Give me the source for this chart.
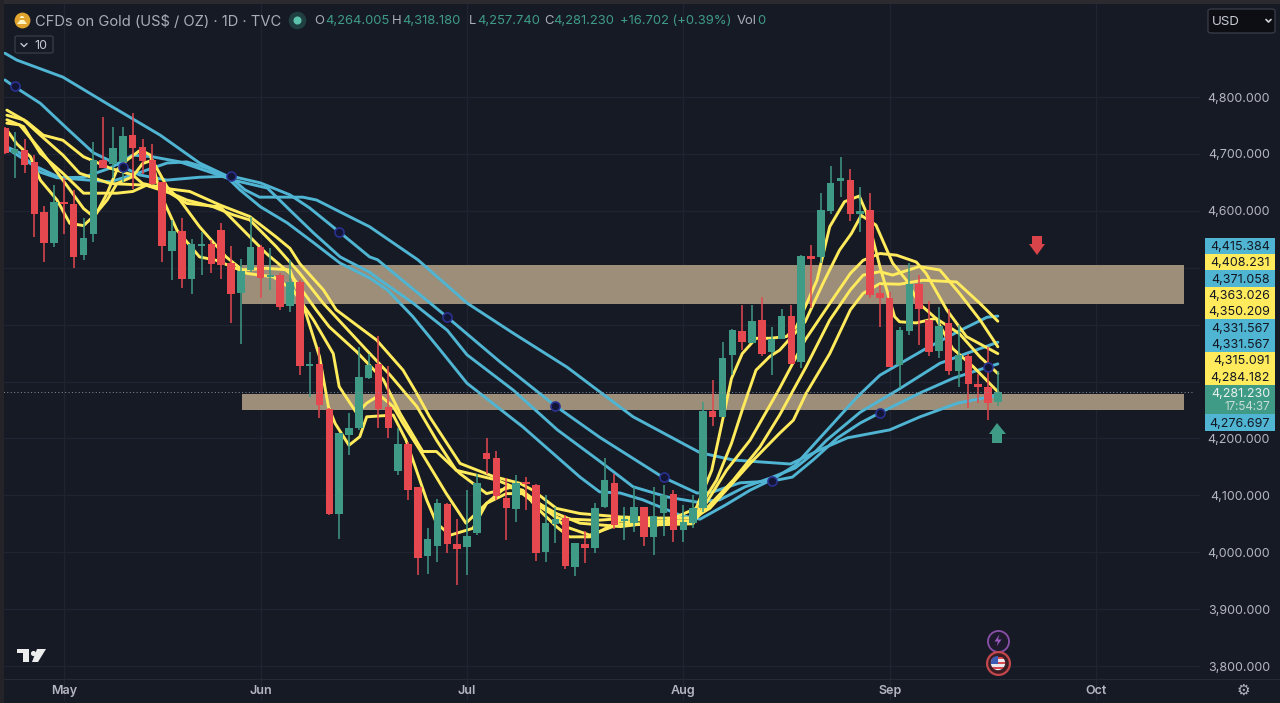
import numpy as np, pandas as pd, seaborn as sns, matplotlib
matplotlib.use("Agg")
import matplotlib.pyplot as plt
from matplotlib.patches import Rectangle, Polygon, Ellipse, FancyBboxPatch

open_ = [4745,4701,4707,4685,4598,4543,4615,4612,4523,4559,4689,4683,4686,4733,4713,4690,4651,4530,4564,4481,4538,4541,4567,4508,4455,4496,4537,4484,4487,4433,
         4475,4327,4330,4252,4068,4206,4218,4307,4330,4256,4143,4190,4114,3993,4011,4084,4015,4010,4033,4174,4165,4096,4076,4123,4118,4001,4050,4061,3974,4015,
         4007,4080,4121,4055,4051,4079,4026,4069,4102,4039,4052,4077,4248,4238,4346,4389,4368,4408,4351,4374,4416,4335,4520,4519,4600,4653,4655,4594,4602,4456,
         4446,4329,4389,4471,4408,4354,4402,4318,4345,4296,4291,4264.005]
high = [4748,4739,4727,4698,4609,4645,4657,4636,4587,4721,4764,4748,4748,4772,4726,4718,4651,4583,4587,4551,4563,4548,4578,4538,4515,4590,4540,4534,4490,4513,
        4478,4351,4361,4254,4210,4244,4361,4349,4380,4327,4219,4194,4114,4042,4094,4086,4059,4109,4138,4201,4178,4130,4135,4133,4120,4101,4080,4065,4017,4038,
        4086,4165,4138,4080,4115,4079,4115,4119,4109,4083,4100,4264,4302,4370,4393,4434,4434,4449,4396,4427,4434,4522,4540,4631,4679,4695,4673,4641,4631,4469,
        4458,4395,4509,4488,4441,4431,4428,4399,4349,4314,4361,4318.18]
low = [4700,4657,4666,4554,4510,4537,4559,4500,4513,4546,4675,4657,4651,4639,4665,4645,4510,4479,4464,4453,4487,4490,4481,4402,4366,4493,4446,4461,4425,4423,
       4311,4273,4235,4066,4024,4170,4215,4305,4218,4200,4136,4092,3960,3961,3983,3999,3942,3960,4030,4138,4091,4021,4053,4074,3984,3983,4017,3970,3958,3981,
       3998,4077,4040,4021,4036,4011,3995,4029,4018,4018,4042,4071,4222,4238,4311,4355,4367,4344,4311,4374,4330,4324,4430,4508,4594,4625,4582,4563,4446,4395,
       4326,4288,4382,4364,4345,4341,4312,4290,4254,4262,4233,4257.74]
close = [4702,4708,4680,4595,4543,4615,4612,4519,4553,4689,4676,4711,4731,4711,4687,4647,4538,4564,4481,4541,4541,4506,4505,4454,4495,4537,4482,4487,4431,4475,
         4327,4329,4259,4068,4210,4218,4308,4329,4252,4218,4190,4110,3990,4024,4087,4014,4006,4029,4121,4163,4099,4077,4121,4120,3999,4052,4059,3976,4016,4007,
         4078,4127,4048,4058,4079,4026,4063,4100,4039,4053,4077,4249,4238,4341,4390,4369,4406,4348,4374,4415,4331,4520,4516,4601,4649,4656,4595,4600,4452,4446,
         4326,4390,4471,4427,4352,4398,4318,4346,4295,4291,4262,4281.23]

y5_bar = [0.2,2.2,3.9,5.9,8,10.7,13,14,16.5,18.8,21.9,24.9,27.6,29,30,32.4,33.7,37.8,40.5,41.9,43.2,46.3,49.7,52.4,53.7,56.1,58.5,62.6,66,70,71.7,75.8,78.8,80.2,81.5,83.9,86,87.3,89,91,93.4,96.8,99.2,101]
y5_val = [4777,4757,4733,4724,4695,4675,4663,4648,4639,4634,4610,4590,4554,4534,4507,4461,4426,4373,4320,4279,4238,4156,4133,4121,4109,4077,4068,4062,4060,4060,4077,4156,4209,4232,4279,4349,4426,4455,4472,4471,4478,4475,4437,4406]
y4_bar = [0.2,1.9,3.6,5.9,7.6,10.7,14.4,16.5,18.5,21.2,23.2,24.9,27.6,30,32.4,36.8,39.2,41.9,43.9,45.9,50,51.7,54.4,56.4,60.2,62.6,66,70,71.2,74.1,76.8,78.8,81.5,83.9,86,87.3,89,90.3,93,95.1,97.1,99.2,101]
y4_val = [4768,4760,4733,4698,4666,4648,4645,4634,4619,4607,4593,4584,4537,4490,4437,4355,4311,4256,4197,4144,4127,4115,4080,4059,4056,4059,4055,4055,4074,4127,4185,4241,4326,4408,4461,4487,4493,4487,4502,4496,4455,4408,4361]
y3_bar = [0.2,1.9,3.6,5.9,8,11.4,13,14.4,16.8,18.5,21.9,23.9,26.6,29,31.7,33,35.8,38.5,40.2,42.5,43.9,46.3,49,51.7,53.7,56.1,58.5,62.6,66,70,71,73.4,75.8,78.8,81.4,83.9,86,87.3,89,90.7,92.7,93.7,95.8,97.8,101]
y3_val = [4760,4748,4701,4666,4631,4631,4634,4645,4631,4613,4607,4572,4525,4490,4425,4396,4352,4303,4244,4177,4177,4138,4103,4115,4092,4068,4051,4045,4052,4052,4077,4144,4197,4288,4373,4437,4490,4513,4525,4522,4510,4490,4426,4379,4349]
y2_bar = [0.2,1.5,3.6,5.9,8,9,10.4,11.4,13,14,15,16.5,17.8,19.8,22.5,24.6,27.3,29.3,31.4,33.4,34,35.8,36.8,38.1,39.5,40.5,42.2,44.9,46.9,49,51,53,55,57,59.5,62.6,66,70,70.7,72.4,73.9,75,76.4,77.8,78.8,81.4,83.2,84.9,86.1,87.1,88.6,90.3,91.7,93,94.7,97.1,99.2,101]
y2_val = [4754,4751,4707,4654,4604,4590,4619,4648,4660,4683,4689,4642,4619,4572,4519,4490,4484,4461,4408,4349,4291,4244,4262,4276,4256,4226,4180,4103,4051,4086,4103,4103,4077,4045,4030,4050,4048,4050,4080,4127,4191,4250,4320,4344,4355,4405,4472,4531,4560,4592,4575,4508,4478,4437,4411,4384,4343,4314]
y1_bar = [0.2,1.2,2.6,3.6,5.3,6.6,8,9.3,10.4,11.4,12.4,13.8,14.8,15.8,17.5,19.8,21.5,23.9,26.6,29,30.5,32,32.9,33.6,35,36.1,36.8,39.5,40.8,41.5,42.9,43.9,45.3,47.6,49,51,52.7,54,56.1,57.4,59.5,62.6,66,70.3,71.9,73,73.9,75,76.4,77.8,79.5,80.5,81.4,82.6,83.9,85.4,86.9,87.6,89,90.5,91,92.7,94.7,96.4,98.5,101]
y1_val = [4742,4718,4695,4654,4619,4578,4574,4595,4631,4672,4689,4707,4698,4631,4566,4519,4513,4496,4499,4496,4426,4344,4256,4226,4188,4203,4238,4241,4197,4162,4092,4051,4030,4042,4086,4115,4109,4080,4045,4027,4027,4056,4045,4077,4144,4232,4305,4349,4376,4376,4379,4396,4431,4478,4572,4616,4626,4598,4502,4414,4405,4403,4411,4358,4326,4282]

a_bar = [0,1.2,5.9,11,15.8,19.8,23,24.4,25.9,30.3,31.7,34.1,37.1,42,47,51.7,57.2,60.5,63.9,70.7,74.1,79.9,82.9,85.7,90,93.1,96.9,101]
a_val = [4877,4865,4835,4782,4733,4684,4658,4637,4624,4624,4619,4598,4572,4514,4438,4385,4325,4282,4238,4175,4162,4155,4180,4201,4215,4238,4262,4276]
b_bar = [0,0.9,3.6,6.3,9,12,13.7,16.5,19.8,23,26,29,31,34,37.1,37.9,45,50.4,56,60.5,66.9,70.4,72,74.8,78,80.1,82.2,84.7,87,89,93.1,96.5,99.9,101]
b_val = [4830,4819,4789,4745,4702,4677,4663,4654,4659,4661,4649,4628,4605,4563,4519,4514,4413,4334,4257,4202,4132,4104,4106,4122,4125,4132,4162,4201,4227,4245,4280,4306,4325,4331]
c_bar = [0,1.5,3.6,5.3,8,10.7,13,15,17.8,21.2,23.2,26.7,29,31.4,34.1,37.1,38.2,41.5,45,47,51.7,56.2,60.5,63.9,67.4,70.4,72.7,75.3,77.8,80.4,82.4,83.6,87,90.8,95.1,97.9,101]
c_val = [4714,4702,4668,4658,4659,4675,4698,4695,4686,4666,4654,4640,4601,4561,4519,4492,4478,4438,4390,4347,4285,4215,4160,4115,4097,4088,4092,4115,4130,4148,4176,4197,4246,4285,4332,4350,4369]
d_bar = [0,2.9,5.6,10.7,13,16.5,18.5,20.6,22.6,23.9,26,28.7,31.4,34.1,37.1,38.9,41.5,44.3,47,52.7,58.5,60.5,62.6,64.9,68.7,70.7,73.3,75.8,78.3,80.4,82.7,86.7,89,93.8,97.2,99.9,101]
d_val = [4712,4680,4658,4651,4663,4684,4686,4675,4659,4637,4607,4579,4544,4508,4482,4461,4414,4355,4297,4220,4132,4106,4104,4092,4065,4058,4083,4109,4130,4153,4197,4273,4311,4359,4390,4413,4415]

dot_bar = [1,12,23,34,45,56,67,78,89,100]
dot_val = [4819,4677,4661,4563,4413,4257,4132,4125,4245,4325]

zone_hi = [4505,4278]
zone_lo = [4436,4250]
y_ticks = [4800,4700,4600,4200,4100,4000,3900,3800]
tick_lab = ["4,800.000","4,700.000","4,600.000","4,200.000","4,100.000","4,000.000","3,900.000","3,800.000"]
grid_y = [4800,4700,4600,4500,4400,4300,4200,4100,4000,3900,3800]
month_bars = [6,26,47,69,90,111]
month_lab = ["May","Jun","Jul","Aug","Sep","Oct"]
badge_val = ["4,415.384","4,408.231","4,371.058","4,363.026","4,350.209","4,331.567","4,331.567","4,315.091","4,284.182"]
badge_col = ["b","y","b","y","y","b","b","y","y"]
last_text = "4,281.230"
timer_text = "17:54:37"
low_badge = "4,276.697"

BG="#161A25"; RED="#E5484F"; GRN="#3F9B85"; YEL="#FFEB5C"; BLU="#4FB5D3"; ZONE="#9C8E78"; GRID="#202430"
W,H=1280,703
sns.set_theme(style="dark")
plt.rcParams['font.family']=['Inter','DejaVu Sans']
fig=plt.figure(figsize=(W/100,H/100),dpi=100,facecolor=BG)
ax=fig.add_axes([0,0,1,1],facecolor=BG)
ax.set_xlim(-0.498,129.7); ax.set_ylim(3735,4970.5)
ax.axis("off")
def X(p): return p/W
def Y(p): return 1-p/H
def YT(p): return 1-(p+1.5)/H
T=ax.transAxes
def poly(pts,c,z=10,**k):
    p=Polygon([(X(a),Y(b)) for a,b in pts],transform=T,color=c,lw=0,zorder=z,**k)
    ax.add_patch(p); return p

for v in grid_y:
    ax.plot([-0.498,122],[v,v],color=GRID,lw=1,zorder=1)
for b in month_bars:
    ax.plot([b,b],[3740,4970],color=GRID,lw=1,zorder=1)
for hi,lo in zip(zone_hi,zone_lo):
    ax.fill_between([24.1,119.9],[lo,lo],[hi,hi],color=ZONE,lw=0,zorder=2)
for bx,vx in [(a_bar,a_val),(b_bar,b_val),(c_bar,c_val),(d_bar,d_val)]:
    sns.lineplot(x=bx,y=vx,color=BLU,lw=2.1,ax=ax,zorder=3,estimator=None,sort=False,solid_joinstyle="round")
for bx,vx in [(y5_bar,y5_val),(y4_bar,y4_val),(y3_bar,y3_val),(y2_bar,y2_val),(y1_bar,y1_val)]:
    sns.lineplot(x=bx,y=vx,color=YEL,lw=2.1,ax=ax,zorder=3,estimator=None,sort=False,solid_joinstyle="round")
df=pd.DataFrame(dict(o=open_,h=high,l=low,c=close)); df["i"]=df.index
df["col"]=np.where(df.c>=df.o,GRN,RED)
ax.vlines(df.i,df.l,df.h,colors=df.col,lw=1.1,zorder=4)
ax.bar(df.i,(df.c-df.o).abs().clip(lower=4),bottom=df[["o","c"]].min(axis=1),width=0.76,color=df.col,lw=0,zorder=5)
sns.scatterplot(x=dot_bar,y=dot_val,s=42,color="#131534",edgecolor="#2A3190",linewidth=1.2,ax=ax,zorder=6)
ax.plot([-0.498,121],[close[-1]]*2,color="#8a8f9c",lw=0.7,ls=(0,(1,2.5)),zorder=6)
poly([(1032,236),(1042,236),(1042,244),(1045,244),(1037,255),(1029,244),(1032,244)],"#D9434A",7)
poly([(992,443),(1002,443),(1002,434),(1006,434),(997,423),(989,434),(992,434)],GRN,7)
def rect(x0,y0,x1,y1,c,z=8):
    ax.add_patch(Rectangle((X(x0),Y(y1)),(x1-x0)/W,(y1-y0)/H,transform=T,color=c,lw=0,zorder=z))
rect(1200,0,1280,703,BG,z=7)
ax.plot([X(0),X(1280)],[Y(678.5)]*2,transform=T,color="#262A35",lw=0.8,zorder=7)
txt=dict(color="#B4B7C0",fontsize=9,ha="right",va="center",zorder=9)
for v,l in zip(y_ticks,tick_lab):
    ax.annotate(l,xy=(X(1270),v),xycoords=ax.get_yaxis_transform(),xytext=(0,-1.5),textcoords="offset pixels",**txt)
centers=[246,262.3,278.6,295,311.3,327.6,344,360.3,376.6]
for yc,l,c in zip(centers,badge_val,badge_col):
    rect(1205,yc-8.4,1275,yc+8.4,BLU if c=="b" else YEL)
    ax.text(X(1270),YT(yc-0.5),l,transform=T,color="#131722",fontsize=9,ha="right",va="center",zorder=9)
rect(1205,385,1275,414,GRN)
ax.text(X(1270),YT(392.5),last_text,transform=T,color="#EAF2F0",fontsize=9,ha="right",va="center",zorder=9)
ax.text(X(1270),YT(405),timer_text,transform=T,color="#C8DCD8",fontsize=8.4,ha="right",va="center",zorder=9)
rect(1205,414,1275,431,BLU)
ax.text(X(1270),YT(422.5),low_badge,transform=T,color="#131722",fontsize=9,ha="right",va="center",zorder=9)
for b,l in zip(month_bars,month_lab):
    ax.text(b,3735+(703-691)*1.7575,l,color="#B4B7C0",fontsize=9,fontweight="semibold",ha="center",va="center",zorder=9)
ax.scatter([X(22)],[Y(20)],s=130,color="#E0A32E",transform=T,zorder=9,lw=0)
poly([(17,24),(20,20),(24,20),(27,24)],"#FFF3C4")
poly([(19.5,18),(21,16),(23,16),(24.5,18)],"#FFF3C4")
ax.text(X(35),YT(20),"CFDs on Gold (US$ / OZ) · 1D · TVC",transform=T,color="#A9ADB8",fontsize=10.6,va="center",zorder=9)
ax.scatter([X(297)],[Y(20)],s=160,color="#1F3F40",transform=T,zorder=9,lw=0)
ax.scatter([X(297)],[Y(20)],s=34,color="#5BC2AC",transform=T,zorder=10,lw=0)
L="#A9ADB8"
segs=[(314,"O",L),(325,"4,264.005",GRN),(392,"H",L),(402,"4,318.180",GRN),(469,"L",L),(477,"4,257.740",GRN),(544,"C",L),(553,"4,281.230",GRN),(620,"+16.702 (+0.39%)",GRN),(737,"Vol",L),(757,"0",GRN)]
for x,s,c in segs:
    ax.text(X(x),YT(20),s,transform=T,color=c,fontsize=9.4,va="center",zorder=9)
ax.add_patch(FancyBboxPatch((X(15),Y(53)),38/W,17/H,boxstyle="round,pad=0,rounding_size=0.002",transform=T,fc=BG,ec="#363A45",lw=1,zorder=9))
ax.plot([X(21),X(24),X(27)],[Y(43.5),Y(46.5),Y(43.5)],transform=T,color="#C5C8D0",lw=1,zorder=10)
ax.text(X(34),YT(44.5),"10",transform=T,color="#C5C8D0",fontsize=9,va="center",zorder=10)
ax.add_patch(FancyBboxPatch((X(1208),Y(33)),67/W,24/H,boxstyle="round,pad=0,rounding_size=0.003",transform=T,fc="#0C0E14",ec="#363A45",lw=1,zorder=9))
ax.text(X(1212),YT(20.5),"USD",transform=T,color="#C8CBD3",fontsize=9.6,va="center",zorder=10)
ax.plot([X(1266),X(1268.5),X(1271)],[Y(19.5),Y(22),Y(19.5)],transform=T,color="#D1D4DC",lw=1.2,zorder=10)
poly([(17,649),(29,649),(29,662),(23,662),(23,653),(17,653)],"#EDEDED",9)
ax.scatter([X(33)],[Y(652.5)],s=14,color="#EDEDED",transform=T,zorder=9,lw=0)
poly([(37,649),(46,649),(38,662),(32,662)],"#EDEDED",9)
ax.scatter([X(998)],[Y(640.5)],s=230,color="#1E1A2E",edgecolor="#8A4FA8",linewidth=1.3,transform=T,zorder=9)
poly([(999.5,634.5),(994.5,641.5),(998,641.5),(996.5,646.5),(1001.5,639.5),(998,639.5)],"#9B59C0",10)
ax.scatter([X(998)],[Y(663)],s=270,color="#3A1C25",edgecolor="#C4474C",linewidth=1.6,transform=T,zorder=9)
for i in range(6):
    r=Rectangle((X(989),Y(657+2.4*(i+1))),18/W,2.4/H,transform=T,color="#E8E8EE" if i%2 else "#D8484F",lw=0,zorder=10)
    ax.add_patch(r)
    r.set_clip_path(Ellipse((X(998),Y(663)),14.4/W,14.4/H,transform=T))
r=Rectangle((X(989),Y(663.5)),9/W,7.5/H,transform=T,color="#3B5BB5",lw=0,zorder=11); ax.add_patch(r)
r.set_clip_path(Ellipse((X(998),Y(663)),14.4/W,14.4/H,transform=T))
ax.text(X(1243),Y(690),"⚙",transform=T,color="#B2B5BE",fontsize=11,ha="center",va="center",zorder=10,family="DejaVu Sans")
rect(0,0,1280,3.5,"#2B2B2F",z=8)
rect(0,0,4,703,"#242428",z=8)
fig.savefig("out.png",dpi=100,facecolor=BG)
